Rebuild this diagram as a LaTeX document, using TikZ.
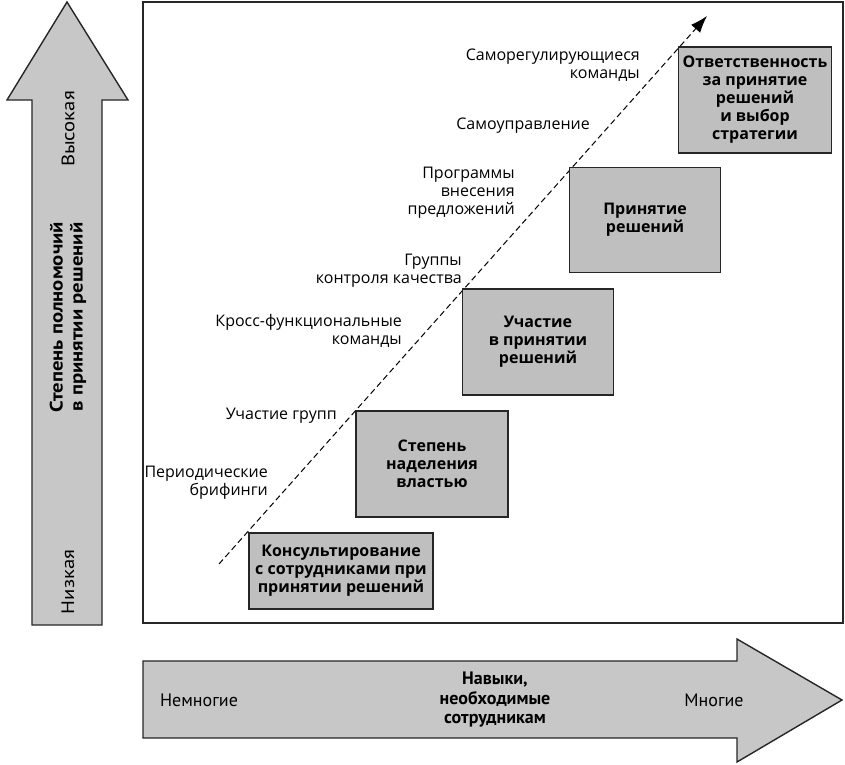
\documentclass[tikz,border=0pt]{standalone}
\usepackage{fontspec}
\setmainfont{Open Sans}
\newfontfamily\narrowfont{PT Sans}
\usetikzlibrary{arrows.meta,positioning}

\begin{document}
\begin{tikzpicture}[x=1pt, y=-1pt,
	box/.style={draw=black!85, line width=1.6pt, fill=black!25, align=center,
		font=\bfseries\fontsize{16}{18}\selectfont},
	lbl/.style={anchor=east, align=right, inner sep=0pt,
		font=\fontsize{16}{18}\selectfont},
	axlbl/.style={align=center, inner sep=0pt,
		font=\narrowfont\fontsize{18}{19.5}\selectfont},
	vlbl/.style={rotate=90, xscale=1.15, align=center, inner sep=0pt,
		font=\narrowfont\fontsize{18}{20}\selectfont},
	bigarr/.style={draw=black!85, line width=1.4pt, fill=black!22},
	arr/.style={-{Latex[length=17pt,width=12pt]}, line width=1pt,
		dash pattern=on 6pt off 3.5pt}
]
	\useasboundingbox (0,0) rectangle (845,764);

	% Axes
	\draw[bigarr] (32,625) -- (32,100) -- (7,100) -- (67,2) -- (128,100)
		-- (102,100) -- (102,625) -- cycle;
	\draw[bigarr] (143,661) -- (737,661) -- (737,639) -- (842,700)
		-- (737,762) -- (737,738) -- (143,738) -- cycle;
	\node[vlbl] (high) at (68,129) {Высокая};
	\node[vlbl, font=\narrowfont\bfseries\fontsize{18}{20}\selectfont] (yaxis) at (68,317)
		{Степень полномочий\\в принятии решений};
	\node[vlbl] (low) at (68,582) {Низкая};
	\node[axlbl] (few) at (199,700) {Немногие};
	\node[axlbl, font=\narrowfont\bfseries\fontsize{18}{19.5}\selectfont] (xaxis) at (495,700)
		{Навыки,\\необходимые\\сотрудникам};
	\node[axlbl] (many) at (714,700) {Многие};

	% Frame
	\draw[line width=1.6pt, draw=black!85] (143,2) rectangle (843,623);

	% Growth line
	\coordinate (start) at (219,564);
	\coordinate (end) at (707,16);
	\draw[arr] (start) -- (end);

	% Stages
	\node[box, minimum width=184pt, minimum height=76pt] (consult) at (341,571)
		{Консультирование\\с сотрудниками при\\принятии решений};
	\node[box, minimum width=152pt, minimum height=106pt] (empower) at (432,464)
		{Степень\\наделения\\властью};
	\node[box, minimum width=151pt, minimum height=106pt] (partic) at (538,342)
		{Участие\\в принятии\\решений};
	\node[box, minimum width=151pt, minimum height=105pt] (decide) at (645,220)
		{Принятие\\решений};
	\node[box, minimum width=153pt, minimum height=106pt] (respons) at (755,100)
		{Ответственность\\за принятие\\решений\\и выбор\\стратегии};

	% Practices
	\node[lbl] (selfteam) at (640,65) {Саморегулирующиеся\\команды};
	\node[lbl] (selfmgmt) at (590,126) {Самоуправление};
	\node[lbl] (suggest) at (515,193) {Программы\\внесения\\предложений};
	\node[lbl] (quality) at (462,271) {Группы\\контроля качества};
	\node[lbl] (cross) at (402,331) {Кросс-функциональные\\команды};
	\node[lbl] (groups) at (337,416) {Участие групп};
	\node[lbl] (brief) at (268,483) {Периодические\\брифинги};
\end{tikzpicture}
\end{document}
